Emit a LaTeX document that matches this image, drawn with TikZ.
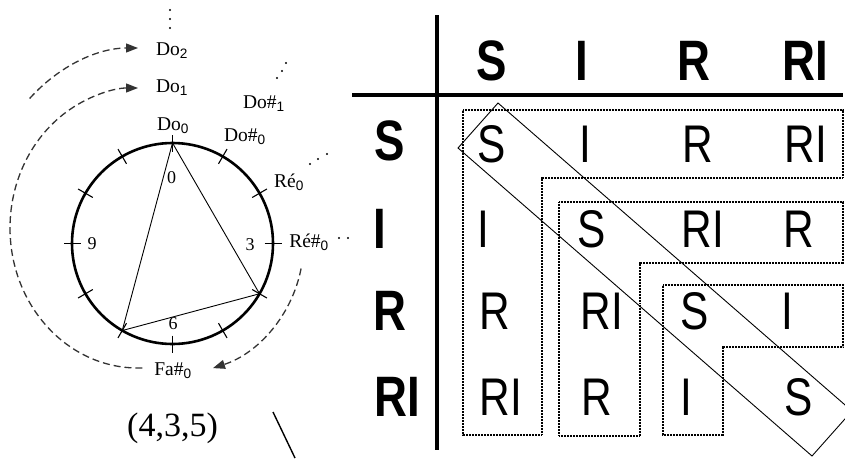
\documentclass[tikz,border=0pt]{standalone}
\usepackage{fontspec}
\setmainfont{Liberation Serif}
\setsansfont{Liberation Sans}
\usetikzlibrary{calc, arrows.meta}
\newcommand{\ix}[1]{\textsubscript{\sffamily #1}}

\begin{document}
\begin{tikzpicture}[x=1pt, y=-1pt,
    lbl/.style={font=\fontsize{19.5}{19.5}\selectfont, inner sep=0pt},
    num/.style={font=\fontsize{18}{18}\selectfont, inner sep=0pt},
    hd/.style={font=\fontsize{57}{57}\selectfont\sffamily\bfseries, xscale=.8, inner sep=0pt},
    cell/.style={font=\fontsize{53}{53}\selectfont\sffamily, xscale=.8, inner sep=0pt},
    dotbox/.style={line width=1.7pt, dash pattern=on .8pt off .7pt},
    octv/.style={black!80, line width=1.3pt, dash pattern=on 7pt off 4pt, -{Triangle[length=12pt,width=9pt]}}]
        \useasboundingbox (0,0) rectangle (845,458);
        \clip (0,0) rectangle (845,458);
        \coordinate (c) at (172.5,243.5);
        \draw[line width=2.6pt] (c) circle [radius=100.5];
        \foreach \a in {0,30,...,330}{
          \draw[line width=1.1pt] (c) ++(\a:92) -- ++(\a:17);
          }
        \path (c) ++(-90:100.5) coordinate (v0)
              (c) ++(30:100.5) coordinate (v4)
              (c) ++(120:100.5) coordinate (v7);
        \draw[line width=.9pt] (v0) -- (v4) -- (v7) -- cycle;
        \node[num] (n0) at (171.5,178) {0};
        \node[num] (n3) at (250,245) {3};
        \node[num] (n6) at (173,324) {6};
        \node[num] (n9) at (92,244) {9};
        \node[lbl] (do0) at (173,126) {Do\ix{0}};
        \node[lbl] (do1) at (172,88) {Do\ix{1}};
        \node[lbl] (do2) at (172,51) {Do\ix{2}};
        \node[lbl] (dod0) at (245,137) {Do\#\ix{0}};
        \node[lbl] (dod1) at (264,104) {Do\#\ix{1}};
        \node[lbl] (re0) at (289,182) {Ré\ix{0}};
        \node[lbl] (red0) at (309,242) {Ré\#\ix{0}};
        \node[lbl] (fad0) at (173,371) {Fa\#\ix{0}};
        \foreach \x/\y in {170/10, 170/19, 170/28, 277/78, 282/71, 286/63,
                           310/164, 318/159, 327/154, 339/238, 348/238}{
          \fill (\x,\y) circle [radius=1.2];
          }
        \draw[octv] (138,228) ++(226:156 and 180) arc[start angle=226, end angle=270, x radius=156, y radius=180];
        \draw[octv] (138,228) ++(88:128 and 140) arc[start angle=88, end angle=270, x radius=128, y radius=140];
        \draw[octv] (c) ++(11:131) arc[start angle=11, end angle=72, radius=131];
        \node[font=\fontsize{34}{34}\selectfont, inner sep=0pt] (tri) at (172.5,428) {(4,3,5)};
        \draw[line width=1.4pt] (273,412) -- (295,458);
        \draw[line width=3.5pt] (437,15) -- (437,450);
        \draw[line width=3.5pt] (352,95) -- (843,95);
        \foreach \x/\t [count=\k] in {492/S, 582/I, 694/R, 805/RI}{
          \node[hd] (h\k) at (\x,61) {\t};
          }
        \foreach \x/\y/\t [count=\k] in {390/141/S, 380/229/I, 390/311/R, 397/397/RI}{
          \node[hd] (r\k) at (\x,\y) {\t};
          }
        \foreach \x/\y/\t [count=\k] in {492/144/S, 585/144/I, 698/144/R, 806/144/RI,
                                        483/229/I, 592/229/S, 703/229/RI, 799/229/R,
                                        495/311/R, 602/311/RI, 695/311/S, 787/311/I,
                                        501/397/RI, 597/397/R, 686/397/I, 799/397/S}{
          \node[cell] (e\k) at (\x,\y) {\t};
          }
        \draw[dotbox] (463,110) -- (843,110) -- (843,178) -- (542,178) -- (542,435) -- (463,435) -- cycle;
        \draw[dotbox] (559,202) -- (843,202) -- (843,263) -- (640,263) -- (640,436) -- (559,436) -- cycle;
        \draw[dotbox] (663,285) -- (843,285) -- (843,347) -- (723,347) -- (723,435) -- (663,435) -- cycle;
        \draw[line width=.9pt] (458,148) -- (498,103) -- (852,411) -- (812,456) -- cycle;
      \end{tikzpicture}
\end{document}
